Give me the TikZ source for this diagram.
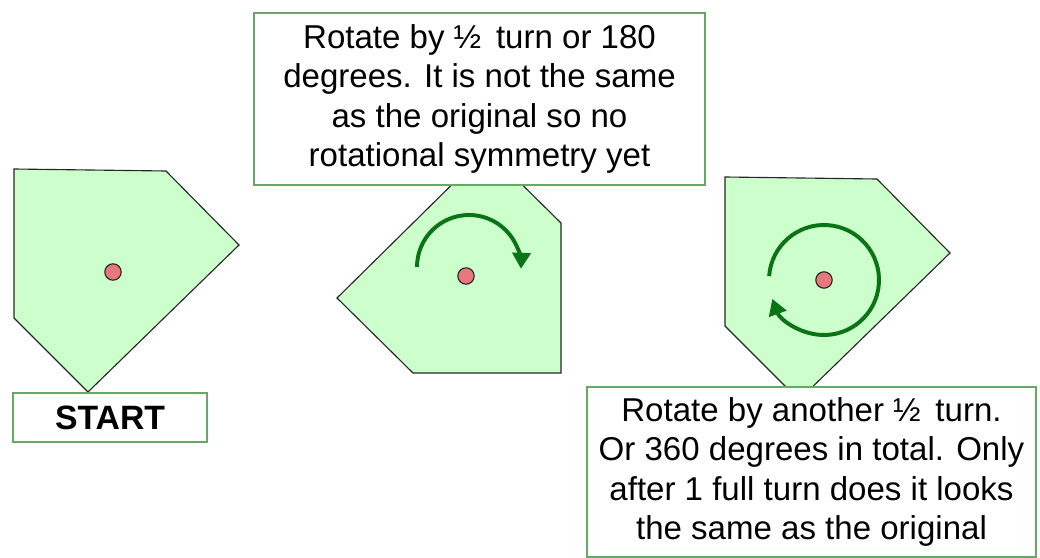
\documentclass[tikz,border=0pt]{standalone}
\usepackage{fontspec}
\setmainfont{Liberation Sans}
\definecolor{shapegreen}{RGB}{204,255,204}
\definecolor{boxgreen}{RGB}{100,170,100}
\definecolor{turngreen}{RGB}{10,115,20}
\definecolor{dotpink}{RGB}{230,120,125}
\usetikzlibrary{arrows.meta}

\begin{document}
\begin{tikzpicture}[
  x=0.025cm, y=-0.025cm,
  every node/.style={font=\fontsize{23.5}{28}\selectfont},
  shapepoly/.style={draw=black!85,fill=shapegreen,line width=0.8pt},
  centredot/.style={circle,draw=black!85,fill=dotpink,line width=0.8pt,
                    minimum size=0.41cm,inner sep=0pt},
  notebox/.style={draw=boxgreen,fill=white,line width=1pt,align=center,inner sep=2pt},
  turnarrow/.style={turngreen,line width=2.8pt,-{Triangle[length=0.4cm,width=0.45cm]}},
]
  \useasboundingbox (0,0) rectangle (1040,558);

  % Start position
  \draw[shapepoly] (14,169) -- (166,171) -- (239,245) -- (88,392) -- (14,318) -- cycle;
  \node[centredot] (c1) at (113,272) {};

  % Half turn
  \draw[shapepoly] (561,373) -- (413,373) -- (337,298) -- (487,150) -- (561,223) -- cycle;
  \node[centredot] (c2) at (466,276) {};
  \draw[turnarrow] ([shift={(180:52)}]469,267) arc[start angle=180,end angle=362,radius=52];

  % Full turn
  \draw[shapepoly] (725,177) -- (877,179) -- (950,253) -- (799,400) -- (725,326) -- cycle;
  \node[centredot] (c3) at (824,280) {};
  \draw[turnarrow] ([shift={(184:55)}]c3) arc[start angle=184,end angle=520,radius=55];

  % Labels
  \node[notebox,font=\fontsize{24}{28}\selectfont\bfseries,
        minimum width=4.85cm,minimum height=1.225cm] (start) at (110,417.5) {START};
  \node[notebox,minimum width=11.275cm,minimum height=4.3cm] (half) at (479.5,99)
    {Rotate by ½\, turn or 180\\degrees. It is not the same\\as the original so no\\rotational symmetry yet};
  \node[notebox,minimum width=11.225cm,minimum height=4.25cm] (full) at (811.5,472)
    {Rotate by another ½\, turn.\\Or 360 degrees in total. Only\\after 1 full turn does it looks\\the same as the original};
\end{tikzpicture}
\end{document}
